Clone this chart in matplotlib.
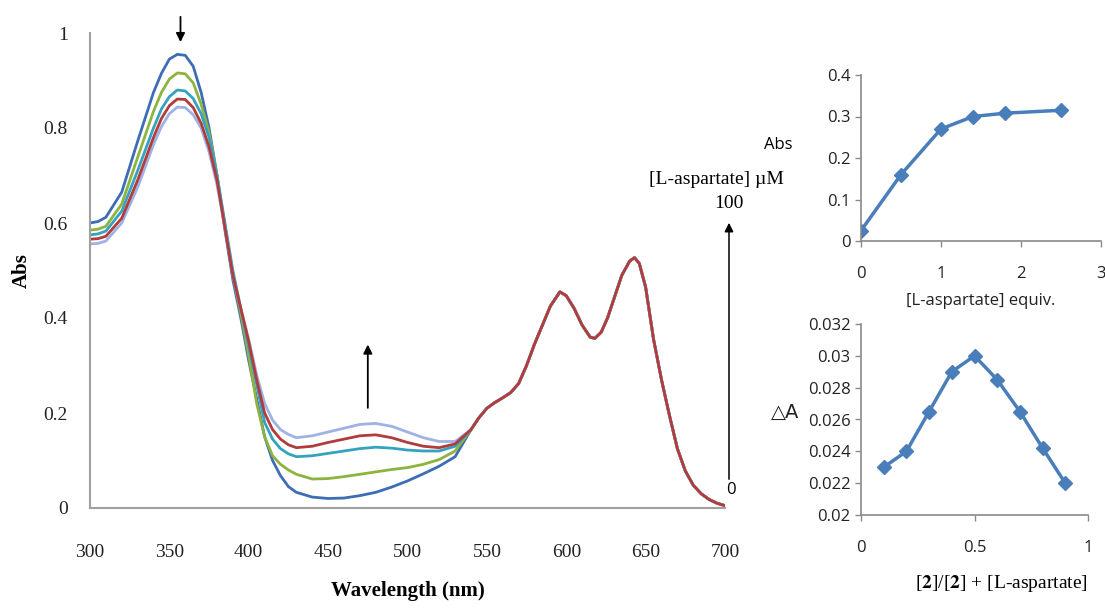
import numpy as np
import matplotlib
matplotlib.use("Agg")
import matplotlib.pyplot as plt

plt.rcParams['mathtext.fontset'] = 'stix'

# wavelengths (nm) where the five spectra differ
wl_head = [300, 305, 310, 320, 330, 340, 345, 350, 355, 360, 365, 370, 375, 380, 385,
           390, 395, 400, 405, 410, 415, 420, 425, 430, 440, 450, 460, 470, 480, 490,
           500, 510, 520, 530]
abs_0 = [0.600, 0.603, 0.612, 0.665, 0.772, 0.875, 0.915, 0.945, 0.955, 0.953, 0.930,
         0.875, 0.800, 0.700, 0.585, 0.480, 0.400, 0.310, 0.230, 0.150, 0.100, 0.068,
         0.045, 0.033, 0.023, 0.020, 0.021, 0.026, 0.033, 0.044, 0.057, 0.072, 0.088,
         0.108]
abs_1 = [0.585, 0.587, 0.593, 0.640, 0.738, 0.835, 0.875, 0.903, 0.916, 0.914, 0.895,
         0.850, 0.790, 0.700, 0.595, 0.490, 0.410, 0.320, 0.220, 0.150, 0.110, 0.092,
         0.080, 0.071, 0.061, 0.062, 0.066, 0.071, 0.076, 0.081, 0.085, 0.092, 0.102,
         0.120]
abs_2 = [0.575, 0.577, 0.583, 0.625, 0.710, 0.800, 0.840, 0.866, 0.880, 0.878, 0.862,
         0.830, 0.780, 0.700, 0.600, 0.500, 0.420, 0.340, 0.260, 0.180, 0.145, 0.125,
         0.114, 0.108, 0.110, 0.115, 0.120, 0.125, 0.128, 0.126, 0.122, 0.120, 0.120,
         0.130]
abs_3 = [0.566, 0.567, 0.572, 0.610, 0.690, 0.780, 0.820, 0.847, 0.861, 0.860, 0.843,
         0.810, 0.760, 0.690, 0.590, 0.490, 0.420, 0.350, 0.270, 0.200, 0.165, 0.145,
         0.133, 0.127, 0.130, 0.138, 0.145, 0.152, 0.154, 0.148, 0.138, 0.130, 0.127,
         0.135]
abs_4 = [0.556, 0.557, 0.562, 0.600, 0.675, 0.765, 0.803, 0.830, 0.844, 0.843, 0.828,
         0.800, 0.750, 0.680, 0.590, 0.490, 0.420, 0.355, 0.280, 0.220, 0.185, 0.165,
         0.155, 0.148, 0.152, 0.160, 0.168, 0.176, 0.178, 0.172, 0.160, 0.148, 0.140,
         0.140]

# shared part of all spectra (curves overlap above 540 nm)
wl_tail = [540, 545, 550, 555, 560, 565, 570, 575, 580, 585, 590, 596, 600, 605, 610,
           615, 618, 622, 626, 630, 635, 640, 643, 646, 650, 655, 660, 665, 670, 675,
           680, 685, 690, 695, 700]
abs_tail = [0.165, 0.190, 0.210, 0.222, 0.232, 0.243, 0.262, 0.300, 0.345, 0.385, 0.425,
            0.455, 0.447, 0.420, 0.385, 0.360, 0.357, 0.370, 0.400, 0.440, 0.490, 0.520,
            0.527, 0.515, 0.465, 0.355, 0.270, 0.195, 0.125, 0.078, 0.048, 0.030, 0.018,
            0.010, 0.005]

spec_colors = ['#3d6db5', '#8db43e', '#35a2bf', '#9fb2e4', '#b23b3b']
spec_order = [abs_0, abs_1, abs_2, abs_4, abs_3]

# inset 1: titration
equiv = [0, 0.5, 1.0, 1.4, 1.8, 2.5]
abs_equiv = [0.025, 0.16, 0.27, 0.30, 0.308, 0.315]

# inset 2: Job plot
mole_frac = [0.1, 0.2, 0.3, 0.4, 0.5, 0.6, 0.7, 0.8, 0.9]
delta_a = [0.023, 0.024, 0.0265, 0.029, 0.030, 0.0285, 0.0265, 0.0242, 0.022]

W, H = 1105, 611
fig = plt.figure(figsize=(W / 100, H / 100), dpi=100)

def box(l, r, t, b):
    return [l / W, (H - b) / H, (r - l) / W, (b - t) / H]

serif = 'Liberation Serif'
sans = 'Open Sans'

# main spectra
ax = fig.add_axes(box(90, 725, 33, 508))
wl = wl_head + wl_tail
for y, c in zip(spec_order, spec_colors):
    ax.plot(wl, y + abs_tail, color=c, lw=2)
ax.set_xlim(300, 700)
ax.set_ylim(0, 1)
ax.set_xticks([300, 350, 400, 450, 500, 550, 600, 650, 700])
ax.set_yticks([0, 0.2, 0.4, 0.6, 0.8, 1])
ax.set_yticklabels(['0', '0.2', '0.4', '0.6', '0.8', '1'])
for s in ['top', 'right']:
    ax.spines[s].set_visible(False)
for s in ['left', 'bottom']:
    ax.spines[s].set_color('#a0a0a0')
    ax.spines[s].set_linewidth(1.5)
ax.tick_params(length=0, labelsize=14, colors='#222222')
ax.tick_params(axis='x', pad=26)
ax.tick_params(axis='y', pad=16)
for lab in ax.get_xticklabels() + ax.get_yticklabels():
    lab.set_family(serif)
ax.set_xlabel('Wavelength (nm)', family=serif, weight='bold', fontsize=15, labelpad=14)
ax.set_ylabel('Abs', family=serif, weight='bold', fontsize=15, labelpad=8)

arr = dict(arrowstyle='-|>', color='black', lw=1.3, mutation_scale=13)
ax.annotate('', xy=(357, 0.975), xytext=(357, 1.04), arrowprops=arr,
            annotation_clip=False)
ax.annotate('', xy=(475, 0.35), xytext=(475, 0.205), arrowprops=arr)

# concentration arrow on the right
fig_arr = dict(arrowstyle='-|>', color='black', lw=1.1, mutation_scale=13)
ax.annotate('', xy=(729, H - 220), xytext=(729, H - 482), xycoords='figure pixels',
            textcoords='figure pixels', arrowprops=fig_arr)
fig.text(729 / W, (H - 204) / H, '100', family=serif, fontsize=14,
         ha='center', va='center')
fig.text(731 / W, (H - 490) / H, '0', family=sans, fontsize=12,
         ha='center', va='center')
fig.text(716 / W, (H - 179) / H, '[L-aspartate] \u00b5M', family=serif, fontsize=14,
         ha='center', va='center')
fig.text(778 / W, (H - 145) / H, 'Abs', family=sans, fontsize=12,
         ha='center', va='center')

# inset 1
ax1 = fig.add_axes(box(861, 1101, 75, 241))
ax1.plot(equiv, abs_equiv, color='#4a7ebb', lw=2.5, marker='D', ms=7)
ax1.set_xlim(0, 3)
ax1.set_ylim(0, 0.4)
ax1.set_xticks([0, 1, 2, 3])
ax1.set_yticks([0, 0.1, 0.2, 0.3, 0.4])
ax1.set_yticklabels(['0', '0.1', '0.2', '0.3', '0.4'])
ax1.set_xlabel('[L-aspartate] equiv.', family=sans, fontsize=12, labelpad=8,
               color='#222222')

# inset 2
ax2 = fig.add_axes(box(861, 1088, 324, 515))
ax2.plot(mole_frac, delta_a, color='#4a7ebb', lw=2.5, marker='D', ms=7)
ax2.set_xlim(0, 1)
ax2.set_ylim(0.02, 0.032)
ax2.set_xticks([0, 0.5, 1])
ax2.set_xticklabels(['0', '0.5', '1'])
ax2.set_yticks([0.02, 0.022, 0.024, 0.026, 0.028, 0.03, 0.032])
ax2.set_yticklabels(['0.02', '0.022', '0.024', '0.026', '0.028', '0.03', '0.032'])
ax2.set_xlabel(r'[$\mathbf{2}$]/[$\mathbf{2}$] + [L-aspartate]', family=serif,
               fontsize=14, labelpad=12, loc='right')
fig.text(785 / W, (H - 412) / H, '\u25b3A', family=['DejaVu Sans'], fontsize=14,
         ha='center', va='center', color='#222222')

for a in (ax1, ax2):
    for s in ['top', 'right']:
        a.spines[s].set_visible(False)
    for s in ['left', 'bottom']:
        a.spines[s].set_color('#8a8a8a')
        a.spines[s].set_linewidth(1.2)
    a.tick_params(length=4, width=1, color='#8a8a8a', labelsize=12,
                  labelcolor='#222222')
    a.tick_params(axis='x', pad=14)
    for lab in a.get_xticklabels() + a.get_yticklabels():
        lab.set_family(sans)

fig.savefig('out.png', dpi=100)
